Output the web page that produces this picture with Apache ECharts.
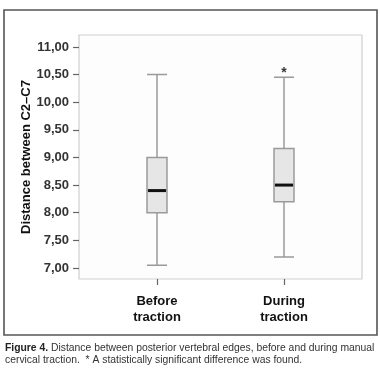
<!DOCTYPE html>
<html><head><meta charset="utf-8">
<script src="https://cdn.jsdelivr.net/npm/echarts@6/dist/echarts.min.js"></script>
<style>html,body{margin:0;padding:0;background:#fff}#c{width:380px;height:374px}</style>
</head><body><div id="c"></div>
<script>
const categories = ['Before\ntraction', 'During\ntraction'];
// [min, Q1, median, Q3, max]
const boxValues = [
  [7.05, 8.00, 8.40, 9.00, 10.50],
  [7.20, 8.20, 8.50, 9.16, 10.45]
];
const yTicks = [7.0, 7.5, 8.0, 8.5, 9.0, 9.5, 10.0, 10.5, 11.0];
const significant = [false, true];
const yTitle = 'Distance between C2\u2013C7';
const captionBold = 'Figure 4.';
const captionRest = ' Distance between posterior vertebral edges, before and during manual';
const captionLine2 = 'cervical traction.  * A statistically significant difference was found.';

const yMin = 6.8, yMax = 11.216;
const chart = echarts.init(document.getElementById('c'), null, {renderer: 'canvas'});
const fmt = v => v.toFixed(2).replace('.', ',');

chart.setOption({
  animation: false,
  backgroundColor: '#fff',
  grid: [
    {left: 79, top: 35, width: 283, height: 244, show: true, borderColor: '#cfcfcf', borderWidth: 1.2, backgroundColor: '#fdfdfd'},
    {left: 93.5, top: 35, width: 254, height: 244}
  ],
  xAxis: [
    {gridIndex: 0, type: 'value', min: 0, max: 1, show: false},
    {gridIndex: 1, type: 'category', data: categories,
     axisLine: {show: false},
     axisTick: {show: true, alignWithLabel: true, length: 6, lineStyle: {color: '#666', width: 1.2}},
     axisLabel: {margin: 14, color: '#111', fontFamily: 'Liberation Sans, Arial', fontWeight: 'bold', fontSize: 13, lineHeight: 16},
     splitLine: {show: false}}
  ],
  yAxis: [
    {gridIndex: 0, type: 'value', min: yMin, max: yMax,
     axisLine: {show: false},
     axisTick: {show: true, length: 6, customValues: yTicks, lineStyle: {color: '#666', width: 1.2}},
     axisLabel: {customValues: yTicks, formatter: fmt, margin: 10, color: '#333', fontFamily: 'Liberation Sans, Arial', fontSize: 13, fontWeight: 'bold'},
     splitLine: {show: false},
     name: yTitle, nameLocation: 'middle', nameGap: 46, nameMoveOverlap: false,
     nameTextStyle: {color: '#111', fontFamily: 'Liberation Sans, Arial', fontWeight: 'bold', fontSize: 13}},
    {gridIndex: 1, type: 'value', min: yMin, max: yMax, show: false}
  ],
  series: [
    {type: 'boxplot', xAxisIndex: 1, yAxisIndex: 1, data: boxValues,
     boxWidth: [20, 20],
     itemStyle: {color: '#e6e6e6', borderColor: '#9a9a9a', borderWidth: 1.5}},
    {type: 'custom', coordinateSystem: 'cartesian2d', xAxisIndex: 1, yAxisIndex: 1, z: 10,
     data: boxValues.map((b, i) => [i, b[2]]),
     encode: {x: 0, y: 1},
     renderItem: function (params, api) {
       const p = api.coord([api.value(0), api.value(1)]);
       const hw = 9;
       return {type: 'rect', shape: {x: p[0] - hw, y: p[1] - 1.5, width: hw * 2, height: 3},
               style: {fill: '#111'}};
     }},
    {type: 'scatter', xAxisIndex: 1, yAxisIndex: 1, symbolSize: 0,
     data: boxValues.map((b, i) => significant[i] ? [i, b[4]] : null).filter(d => d),
     label: {show: true, formatter: '*', position: 'top', distance: -3, color: '#000', fontWeight: 'bold', fontSize: 14, fontFamily: 'Liberation Sans, Arial'}}
  ],
  graphic: [
    {type: 'rect', shape: {x: 4, y: 10, width: 373, height: 325}, style: {fill: 'none', stroke: '#555', lineWidth: 1.6}, silent: true},
    {type: 'text', x: 5, y: 342, scaleX: 0.9, style: {
      rich: {b: {fontWeight: 'bold', fontSize: 11.5, fontFamily: 'Liberation Sans, Arial', fill: '#222'},
             n: {fontSize: 11.5, fontFamily: 'Liberation Sans, Arial', fill: '#333'}},
      text: '{b|' + captionBold + '}{n|' + captionRest + '}'}},
    {type: 'text', x: 5, y: 354, scaleX: 0.9, style: {
      text: captionLine2, fontSize: 11.5, fontFamily: 'Liberation Sans, Arial', fill: '#333'}}
  ]
});
</script></body></html>
